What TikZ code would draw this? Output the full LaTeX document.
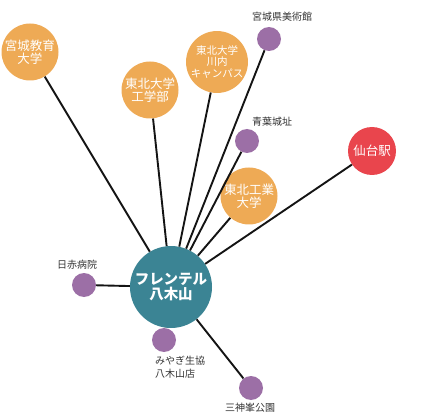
\documentclass[tikz,border=0pt]{standalone}
\usepackage{fontspec}
\setmainfont{Noto Sans CJK JP}
\usetikzlibrary{positioning}
\definecolor{campus}{HTML}{EEAA55}
\definecolor{spot}{HTML}{9C6FA6}
\definecolor{station}{HTML}{E9454D}
\definecolor{home}{HTML}{3B8494}

\begin{document}
\begin{tikzpicture}[x=1pt,y=-1pt,
  link/.style={line width=1.9pt, black!92},
  univ/.style={circle, fill=campus, text=white, inner sep=0pt, minimum size=57pt, align=center, font=\fontsize{12.5}{13}\selectfont},
  place/.style={circle, fill=spot, inner sep=0pt, minimum size=24pt},
  tag/.style={text=black!80, inner sep=1pt, font=\fontsize{10}{13}\selectfont}]
\useasboundingbox (0,0) rectangle (440,420);
% hub
\node[circle, fill=home, text=white, inner sep=0pt, minimum size=82pt, align=center,
  font=\bfseries\fontsize{14.5}{15}\selectfont] (hub) at (171,287) {フレンテル\\八木山};
% universities
\node[univ] (kyoiku) at (30,52) {宮城教育\\大学};
\node[univ] (kogaku) at (150,90) {東北大学\\工学部};
\node[univ, font=\fontsize{10.5}{11.5}\selectfont] (kawauchi) at (217,62) {東北大学\\川内\\キャンパス};
\node[univ] (tohtech) at (249,196) {東北工業\\大学};
\node[circle, fill=station, text=white, inner sep=0pt, minimum size=48pt,
  font=\fontsize{12.5}{13}\selectfont] (eki) at (372,151) {仙台駅};
% spots
\node[place] (bijutsu) at (269,39) {};
\node[place] (aoba) at (247,141) {};
\node[place] (nisseki) at (84,285) {};
\node[place] (coop) at (164,340) {};
\node[place] (mikami) at (251,388) {};
\node[tag] (bijutsuT) at (282,17) {宮城県美術館};
\node[tag] (aobaT) at (272,122) {青葉城址};
\node[tag] (nissekiT) at (77,265) {日赤病院};
\node[tag, anchor=west, align=left] (coopT) at (154,367.5) {みやぎ生協\\八木山店};
\node[tag] (mikamiT) at (250,408) {三神峯公園};
% links
\foreach \n in {kyoiku,kogaku,kawauchi,tohtech,eki,bijutsu,aoba,nisseki,coop,mikami}
  \draw[link] (hub) -- (\n);
\end{tikzpicture}
\end{document}
